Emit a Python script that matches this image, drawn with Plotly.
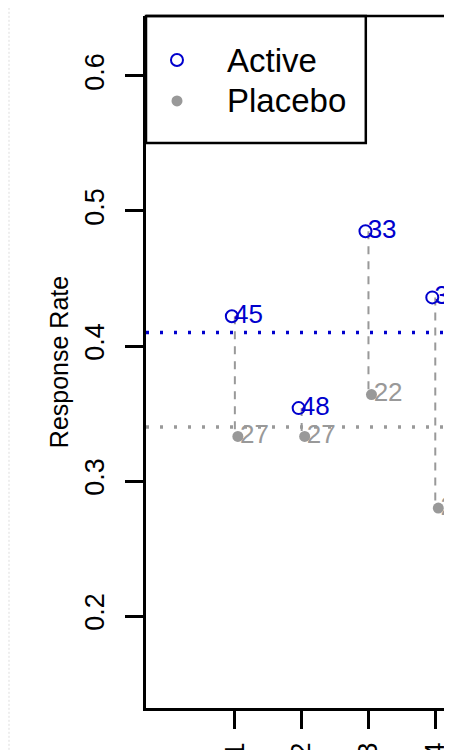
import plotly.graph_objects as go

# ---- data ----
groups = [1, 2, 3, 4]
active_rate = [0.422, 0.354, 0.485, 0.436]
active_n = [45, 48, 33, 39]
placebo_rate = [0.333, 0.333, 0.364, 0.280]
placebo_n = [27, 27, 22, 25]
active_mean = 0.410
placebo_mean = 0.340
y_ticks = [0.2, 0.3, 0.4, 0.5, 0.6]
x_ticks = [1, 2, 3, 4]
legend_names = ["Active", "Placebo"]

BLUE = "#0000CD"
GREY = "#999999"
FONT = "Liberation Sans, Arial, sans-serif"
OFF = 0.045
GAP = "\u200a"
LW = 2.5

xa = [g - OFF for g in groups]
xp = [g + OFF for g in groups]

active_marker = dict(symbol="circle-open", size=12, color=BLUE, line=dict(width=2, color=BLUE))
placebo_marker = dict(symbol="circle", size=11, color=GREY)

fig = go.Figure()

# connecting dashed segments
seg_x, seg_y = [], []
for g, a, p in zip(groups, active_rate, placebo_rate):
    seg_x += [g, g, None]
    seg_y += [a, p, None]
fig.add_trace(go.Scatter(x=seg_x, y=seg_y, mode="lines",
                         line=dict(color=GREY, width=2, dash="8px,7px"),
                         showlegend=False, hoverinfo="skip"))

# markers
fig.add_trace(go.Scatter(x=xa, y=active_rate, mode="markers", name=legend_names[0],
                         marker=active_marker, showlegend=False))
fig.add_trace(go.Scatter(x=xp, y=placebo_rate, mode="markers", name=legend_names[1],
                         marker=placebo_marker, showlegend=False))

# labels
fig.add_trace(go.Scatter(x=xa, y=active_rate, mode="text", text=[GAP + str(n) for n in active_n],
                         textposition="middle right", textfont=dict(color=BLUE, size=26, family=FONT),
                         showlegend=False, hoverinfo="skip"))
fig.add_trace(go.Scatter(x=xp, y=placebo_rate, mode="text", text=[GAP + str(n) for n in placebo_n],
                         textposition="middle right", textfont=dict(color=GREY, size=26, family=FONT),
                         showlegend=False, hoverinfo="skip"))

# legend (drawn inside the plot's top-left corner, like R's legend("topleft"))
LEG_X_SYM = 0.0987
LEG_X_TXT = 0.2516
LEG_Y = [0.9364, 0.8772]
fig.add_trace(go.Scatter(x=[LEG_X_SYM], y=[LEG_Y[0]], xaxis="x2", yaxis="y2", mode="markers",
                         marker=active_marker, showlegend=False, hoverinfo="skip"))
fig.add_trace(go.Scatter(x=[LEG_X_SYM], y=[LEG_Y[1]], xaxis="x2", yaxis="y2", mode="markers",
                         marker=placebo_marker, showlegend=False, hoverinfo="skip"))
annotations = [
    dict(x=LEG_X_TXT, y=yy, xref="x2", yref="y2", text=nm, showarrow=False,
         xanchor="left", yanchor="middle", font=dict(size=33, family=FONT, color="black"))
    for nm, yy in zip(legend_names, LEG_Y)
]

shapes = [
    dict(type="line", xref="x domain", yref="y", x0=0, x1=1, y0=active_mean, y1=active_mean,
         line=dict(color=BLUE, width=3.5, dash="3px,11px"), layer="below"),
    dict(type="line", xref="x domain", yref="y", x0=0, x1=1, y0=placebo_mean, y1=placebo_mean,
         line=dict(color=GREY, width=3.5, dash="3px,11px"), layer="below"),
    dict(type="line", xref="paper", yref="paper", x0=0, x1=1, y0=1, y1=1,
         line=dict(color="black", width=LW)),
    # legend box
    dict(type="rect", xref="paper", yref="paper", x0=0, x1=0.70, y0=0.8165, y1=1,
         line=dict(color="black", width=LW), fillcolor="white", layer="below"),
    # faint dotted border at the image's left edge
    dict(type="line", xref="paper", yref="paper", x0=-0.4363, x1=-0.4363, y0=-0.072, y1=1.012,
         line=dict(color="#dddddd", width=1, dash="2px,2px")),
]

fig.update_layout(
    width=452, height=750,
    margin=dict(l=138, r=0, t=8, b=50),
    paper_bgcolor="white", plot_bgcolor="white",
    font=dict(family=FONT, color="black", size=25),
    shapes=shapes, annotations=annotations,
    showlegend=False,
    xaxis=dict(range=[-0.33, 4.37], tickmode="array", tickvals=x_ticks,
               ticktext=[str(t) for t in x_ticks], tickangle=-90,
               ticks="outside", ticklen=18, tickwidth=LW, tickcolor="black",
               showline=True, linecolor="black", linewidth=LW, showgrid=False,
               zeroline=False, ticklabelstandoff=3, automargin=False,
               tickfont=dict(size=27, family=FONT, color="black")),
    yaxis=dict(range=[0.1319, 0.6444], tickmode="array", tickvals=y_ticks,
               ticktext=[f"{t:.1f}" for t in y_ticks], tickangle=-90,
               ticks="outside", ticklen=18, tickwidth=LW, tickcolor="black",
               showline=True, linecolor="black", linewidth=LW, showgrid=False,
               zeroline=False, ticklabelstandoff=10, automargin=False,
               tickfont=dict(size=27, family=FONT, color="black"),
               title=dict(text="Response Rate", font=dict(size=25, family=FONT, color="black"),
                          standoff=5)),
    xaxis2=dict(overlaying="x", range=[0, 1], visible=False, fixedrange=True),
    yaxis2=dict(overlaying="y", range=[0, 1], visible=False, fixedrange=True),
)

fig.write_html("out.html")
